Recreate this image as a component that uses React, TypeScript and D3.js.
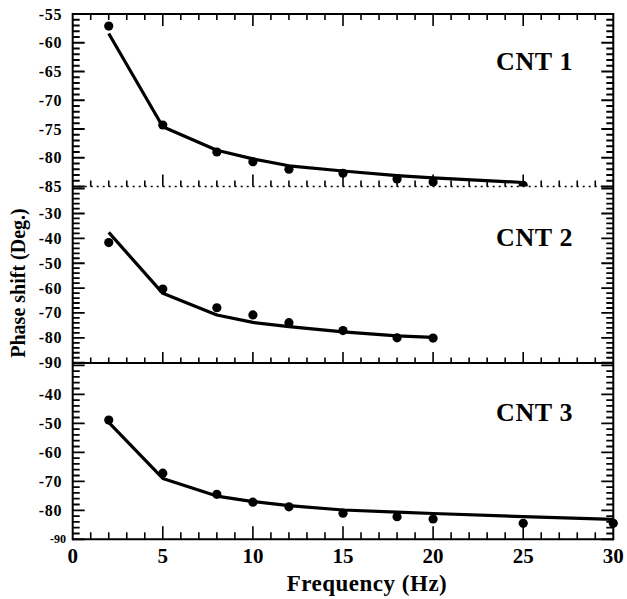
import React from 'react';
import * as d3 from 'd3';

// ---- Data ----
const freq1 = [2, 5, 8, 10, 12, 15, 18, 20, 25];
const cnt1Measured = [-57.1, -74.3, -79.0, -80.7, -82.0, -82.7, -83.7, -84.2, -84.8];
const cnt1Fit = [-58.4, -74.6, -78.7, -80.2, -81.4, -82.3, -83.1, -83.5, -84.3];

const freq2 = [2, 5, 8, 10, 12, 15, 18, 20];
const cnt2Measured = [-41.7, -60.4, -67.9, -70.8, -73.9, -77.1, -80.0, -80.1];
const cnt2Fit = [-37.6, -62.1, -70.8, -73.8, -75.5, -77.6, -79.2, -79.8];

const freq3 = [2, 5, 8, 10, 12, 15, 18, 20, 25, 30];
const cnt3Measured = [-48.9, -67.2, -74.5, -77.2, -78.8, -81.0, -82.2, -83.0, -84.5, -84.5];
const cnt3Fit = [-49.7, -69.0, -75.1, -77.0, -78.4, -79.9, -80.6, -81.1, -82.2, -83.1];

const panelLabels = ['CNT 1', 'CNT 2', 'CNT 3'];
const yTicksTop = [-55, -60, -65, -70, -75, -80, -85];
const yTicksMid = [-30, -40, -50, -60, -70, -80, -90];
const yTicksBot = [-40, -50, -60, -70, -80, -90];
const xTicks = [0, 5, 10, 15, 20, 25, 30];
const xLabel = 'Frequency (Hz)';
const yLabel = 'Phase shift (Deg.)';

const FONT = '"Liberation Serif", "Times New Roman", "DejaVu Serif", serif';

export default function App() {
  const W = 627, H = 599;
  const L = 72.7, R = 613.3;
  const x = d3.scaleLinear().domain([0, 30]).range([L, R]);

  const panels = [
    {
      top: 14, bottom: 186.5,
      y: d3.scaleLinear().domain([-85, -55]).range([186.5, 14]),
      minor: 1, major: 5, ticks: yTicksTop,
      freq: freq1, meas: cnt1Measured, fit: cnt1Fit, label: panelLabels[0], labelY: 70,
      clip: true,
    },
    {
      top: 186.5, bottom: 363,
      y: d3.scaleLinear().domain([-90, -30]).range([362.7, 213.5]),
      minor: 2, major: 10, ticks: yTicksMid,
      freq: freq2, meas: cnt2Measured, fit: cnt2Fit, label: panelLabels[1], labelY: 245.5,
      clip: false,
    },
    {
      top: 363.5, bottom: 539.3,
      y: d3.scaleLinear().domain([-90, -40]).range([539.3, 394.3]),
      minor: 2, major: 10, ticks: yTicksBot,
      freq: freq3, meas: cnt3Measured, fit: cnt3Fit, label: panelLabels[2], labelY: 420.5,
      clip: false,
    },
  ];

  // y-axis tick marks (left & right) as one path
  let tickPath = '';
  panels.forEach((p) => {
    const lo = Math.ceil(p.y.invert(p.bottom) - 1e-6);
    const hi = Math.floor(p.y.invert(p.top) + 1e-6);
    for (let v = lo; v <= hi; v++) {
      if (Math.abs(v % p.minor) > 1e-6) continue;
      const yy = p.y(v);
      if (yy > p.bottom + 0.6 || yy < p.top - 0.6) continue;
      const len = Math.abs(v % p.major) < 1e-6 ? 12 : 7;
      tickPath += `M${L},${yy.toFixed(2)}h${len}M${R},${yy.toFixed(2)}h${-len}`;
    }
  });

  const xMinor = d3.range(1, 30, 1);

  const hTicks = (yPos: number, dir: number, minLen: number, majLen: number, key: string) =>
    xMinor.map((v) => {
      const len = v % 5 === 0 ? majLen : minLen;
      return (
        <line key={key + v} x1={x(v)} x2={x(v)} y1={yPos} y2={yPos + dir * len}
          stroke="#000" strokeWidth={1.6} />
      );
    });

  return (
    <svg width={W} height={H} style={{ position: 'absolute', left: 0, top: 0, background: '#fff' }}
      fontFamily={FONT}>
      <defs>
        {panels.map((p, i) => (
          <clipPath id={'clip' + i} key={i}>
            <rect x={0} y={p.top - 20} width={W} height={p.bottom - p.top + 20} />
          </clipPath>
        ))}
      </defs>

      <path d={tickPath} fill="none" stroke="#000" strokeWidth={1.8} />

      {panels.map((p, i) => {
        const line = d3.line<number>()
          .x((_, k) => x(p.freq[k]))
          .y((d) => p.y(d));
        return (
          <g key={i}>
            {p.ticks.map((t) => {
              const small = i === 2 && t === -90;
              return (
                <text key={'l' + t} x={small ? 66 : 62} y={p.y(t)} textAnchor="end"
                  dominantBaseline="central" fontSize={small ? 12 : 16} fontWeight="bold"
                  letterSpacing={small ? 0 : 0.6}>
                  {t}
                </text>
              );
            })}
            <g clipPath={p.clip ? `url(#clip${i})` : undefined}>
              <path d={line(p.fit) || ''} fill="none" stroke="#000" strokeWidth={3.2}
                strokeLinejoin="round" />
              {p.meas.map((v, k) => (
                <circle key={k} cx={x(p.freq[k])} cy={p.y(v)} r={4.6} fill="#000" />
              ))}
            </g>
            <text x={573} y={p.labelY} textAnchor="end" fontSize={26} fontWeight="bold"
              letterSpacing={0.6}>
              {p.label}
            </text>
          </g>
        );
      })}

      {/* horizontal frame lines */}
      <line x1={L} x2={R} y1={14} y2={14} stroke="#000" strokeWidth={2} />
      {hTicks(14, 1, 6, 12, 't')}
      <line x1={L} x2={R} y1={186.5} y2={186.5} stroke="#000" strokeWidth={1.5}
        strokeDasharray="2,4" />
      {hTicks(186.5, -1, 6, 12, 'd')}
      <line x1={L} x2={R} y1={363} y2={363} stroke="#000" strokeWidth={2} />
      {hTicks(363, -1, 5.5, 11, 'm')}
      <line x1={L} x2={R} y1={539.3} y2={539.3} stroke="#000" strokeWidth={2} />
      {hTicks(539.3, -1, 7, 13, 'b')}

      {/* vertical frame lines */}
      <line x1={L} x2={L} y1={13} y2={540.3} stroke="#000" strokeWidth={2} />
      <line x1={R} x2={R} y1={13} y2={540.3} stroke="#000" strokeWidth={2} />

      {/* x tick labels */}
      {xTicks.map((t) => (
        <text key={'x' + t} x={x(t)} y={563} textAnchor="middle" fontSize={21} fontWeight="bold">
          {t}
        </text>
      ))}

      {/* axis titles */}
      <text x={367} y={591} textAnchor="middle" fontSize={23} fontWeight="bold" letterSpacing={0.5}>
        {xLabel}
      </text>
      <text transform="translate(25,283) rotate(-90)" textAnchor="middle" fontSize={20}
        fontWeight="bold">
        {yLabel}
      </text>
    </svg>
  );
}
